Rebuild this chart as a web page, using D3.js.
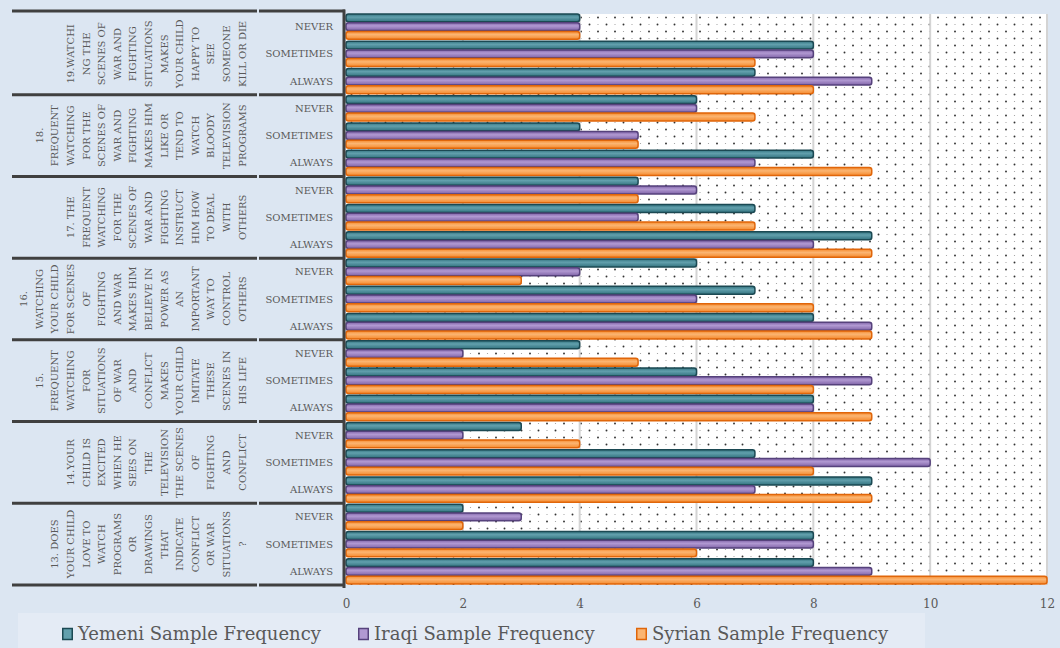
<!DOCTYPE html>
<html>
<head>
<meta charset="utf-8">
<script src="https://cdn.jsdelivr.net/npm/d3@7"></script>
<style>
  html, body { margin: 0; padding: 0; background: #dce6f2; }
  svg { display: block; }
  text { font-family: "DejaVu Serif", serif; fill: #595959; }
</style>
</head>
<body>
<svg id="chart" width="1060" height="648"></svg>
<script>
// Question labels, top to bottom, one entry per printed line
const questions = [
  ["19.WATCHI", "NG THE", "SCENES OF", "WAR AND", "FIGHTING", "SITUATIONS", "MAKES", "YOUR CHILD", "HAPPY TO", "SEE", "SOMEONE", "KILL OR DIE"],
  ["18.", "FREQUENT", "WATCHING", "FOR THE", "SCENES OF", "WAR AND", "FIGHTING", "MAKES HIM", "LIKE OR", "TEND TO", "WATCH", "BLOODY", "TELEVISION", "PROGRAMS"],
  ["17. THE", "FREQUENT", "WATCHING", "FOR THE", "SCENES OF", "WAR AND", "FIGHTING", "INSTRUCT", "HIM HOW", "TO DEAL", "WITH", "OTHERS"],
  ["16.", "WATCHING", "YOUR CHILD", "FOR SCENES", "OF", "FIGHTING", "AND WAR", "MAKES HIM", "BELIEVE IN", "POWER AS", "AN", "IMPORTANT", "WAY TO", "CONTROL", "OTHERS"],
  ["15.", "FREQUENT", "WATCHING", "FOR", "SITUATIONS", "OF WAR", "AND", "CONFLICT", "MAKES", "YOUR CHILD", "IMITATE", "THESE", "SCENES IN", "HIS LIFE"],
  ["14.YOUR", "CHILD IS", "EXCITED", "WHEN HE", "SEES ON", "THE", "TELEVISION", "THE SCENES", "OF", "FIGHTING", "AND", "CONFLICT"],
  ["13. DOES", "YOUR CHILD", "LOVE TO", "WATCH", "PROGRAMS", "OR", "DRAWINGS", "THAT", "INDICATE", "CONFLICT", "OR WAR", "SITUATIONS", "?"]
];
const answers = ["NEVER", "SOMETIMES", "ALWAYS"];
const seriesNames = ["Yemeni Sample Frequency", "Iraqi Sample Frequency", "Syrian Sample Frequency"];

// Frequencies per question (top to bottom) and answer (NEVER, SOMETIMES, ALWAYS)
const yemeni = [4, 8, 7,  6, 4, 8,  5, 7, 9,  6, 7, 8,  4, 6, 8,  3, 7, 9,  2, 8, 8];
const iraqi  = [4, 8, 9,  6, 5, 7,  6, 5, 8,  4, 6, 9,  2, 9, 8,  2, 10, 7, 3, 8, 9];
const syrian = [4, 7, 8,  7, 5, 9,  5, 7, 9,  3, 8, 9,  5, 8, 9,  4, 8, 9,  2, 6, 12];
const xTicks = [0, 2, 4, 6, 8, 10, 12];

const seriesValues = [yemeni, iraqi, syrian];
const palette = [
  { edge: "#1b4953", base: "#33737f", light: "#62a0ad" },
  { edge: "#56427c", base: "#8064a8", light: "#b199d2" },
  { edge: "#e0660a", base: "#f58a2e", light: "#fbb572" }
];

const svg = d3.select("#chart");
const defs = svg.append("defs");

// dotted plot-area fill
const pat = defs.append("pattern").attr("id", "dots")
  .attr("patternUnits", "userSpaceOnUse").attr("width", 17).attr("height", 14);
pat.append("rect").attr("width", 17).attr("height", 14).attr("fill", "#ffffff");
pat.append("circle").attr("cx", 3).attr("cy", 3.5).attr("r", 0.95).attr("fill", "#333");
pat.append("circle").attr("cx", 11.5).attr("cy", 10.5).attr("r", 0.95).attr("fill", "#333");
pat.append("circle").attr("cx", 11.5).attr("cy", 3.5).attr("r", 0.6).attr("fill", "#999");
pat.append("circle").attr("cx", 3).attr("cy", 10.5).attr("r", 0.6).attr("fill", "#999");

palette.forEach((p, i) => {
  const g = defs.append("linearGradient").attr("id", "grad" + i)
    .attr("x1", 0).attr("y1", 0).attr("x2", 0).attr("y2", 1);
  g.append("stop").attr("offset", "0%").attr("stop-color", p.base);
  g.append("stop").attr("offset", "40%").attr("stop-color", p.light);
  g.append("stop").attr("offset", "100%").attr("stop-color", p.base);
});

// rows: one per (question, answer)
const rows = [];
questions.forEach((q, qi) => answers.forEach((a, ai) => rows.push({ q: qi, a: ai, key: qi + "-" + ai })));

const plotTop = 13, plotBottom = 585, plotLeft = 346, plotRight = 1047;
const x = d3.scaleLinear().domain([0, 12]).range([plotLeft, plotRight]);
const y = d3.scaleBand().domain(rows.map(r => r.key)).range([plotTop, plotBottom])
  .paddingInner(0.04).paddingOuter(0.02);
const ySeries = d3.scaleBand().domain(d3.range(3)).range([0, y.bandwidth()]);
const step = (plotBottom - plotTop) / rows.length;

// plot area
svg.append("rect").attr("x", plotLeft).attr("y", plotTop + 1)
  .attr("width", plotRight - plotLeft).attr("height", plotBottom - plotTop - 1)
  .attr("fill", "url(#dots)");

// vertical gridlines
svg.append("g").selectAll("line").data(xTicks.slice(1)).join("line")
  .attr("x1", d => x(d)).attr("x2", d => x(d))
  .attr("y1", plotTop + 1).attr("y2", plotBottom)
  .attr("stroke", "#d4d4d4").attr("stroke-width", 2);

// bars
const barData = [];
rows.forEach((r, ri) => seriesValues.forEach((vals, si) => barData.push({ row: r, s: si, v: vals[ri] })));
svg.append("g").selectAll("rect").data(barData).join("rect")
  .attr("x", x(0))
  .attr("y", d => y(d.row.key) + ySeries(d.s) + 0.4)
  .attr("width", d => x(d.v) - x(0))
  .attr("height", ySeries.bandwidth() - 0.8)
  .attr("rx", 2.5)
  .attr("fill", d => "url(#grad" + d.s + ")")
  .attr("stroke", d => palette[d.s].edge)
  .attr("stroke-width", 1.5);

// x axis
const xAxis = svg.append("g").attr("transform", `translate(0,${plotBottom})`)
  .call(d3.axisBottom(x).tickValues(xTicks).tickSize(0).tickPadding(14).tickFormat(d3.format("d")));
xAxis.select(".domain").remove();
xAxis.selectAll("text").attr("font-size", 12).attr("font-family", "DejaVu Serif").attr("fill", "#595959");

// category axis: group frames
const axisColor = "#404040";
const frame = svg.append("g");
for (let k = 0; k <= questions.length; k++) {
  const yy = k === 0 ? plotTop - 2 : plotTop + k * 3 * step;
  frame.append("line").attr("x1", 12).attr("x2", 257).attr("y1", yy).attr("y2", yy)
    .attr("stroke", axisColor).attr("stroke-width", 3);
  frame.append("line").attr("x1", 259).attr("x2", plotLeft - 1).attr("y1", yy).attr("y2", yy)
    .attr("stroke", axisColor).attr("stroke-width", 3);
}
frame.append("line").attr("x1", plotLeft - 2).attr("x2", plotLeft - 2)
  .attr("y1", plotTop - 3.5).attr("y2", plotBottom + 3)
  .attr("stroke", axisColor).attr("stroke-width", 3);

// answer labels
svg.append("g").selectAll("text").data(rows).join("text")
  .attr("x", 333)
  .attr("y", d => y(d.key) + y.bandwidth() / 2)
  .attr("dy", "0.35em")
  .attr("text-anchor", "end")
  .attr("font-size", 10)
  .text(d => answers[d.a]);

// question labels, rotated, one column per line
const lineGap = 15.6, lastCol = 242;
questions.forEach((lines, qi) => {
  const cy = plotTop + (qi * 3 + 1.5) * step;
  const n = lines.length;
  svg.append("g").selectAll("text").data(lines).join("text")
    .attr("transform", (d, i) => `translate(${lastCol - (n - 1 - i) * lineGap},${cy}) rotate(-90)`)
    .attr("text-anchor", "middle")
    .attr("dy", "0.36em")
    .attr("font-size", 10)
    .text(d => d);
});

// legend
const legend = svg.append("g");
legend.append("rect").attr("x", 18).attr("y", 613).attr("width", 907).attr("height", 40)
  .attr("fill", "#e4ebf5");
const legendX = [62, 358, 636];
seriesNames.forEach((name, i) => {
  const g = legend.append("g").attr("transform", `translate(${legendX[i]},634)`);
  g.append("rect").attr("x", 0.75).attr("y", -5.5).attr("width", 9.5).attr("height", 11)
    .attr("fill", palette[i].light).attr("stroke", palette[i].edge).attr("stroke-width", 1.5);
  g.append("text").attr("x", 16).attr("dy", "0.35em").attr("font-size", 18).text(name);
});
</script>
</body>
</html>
